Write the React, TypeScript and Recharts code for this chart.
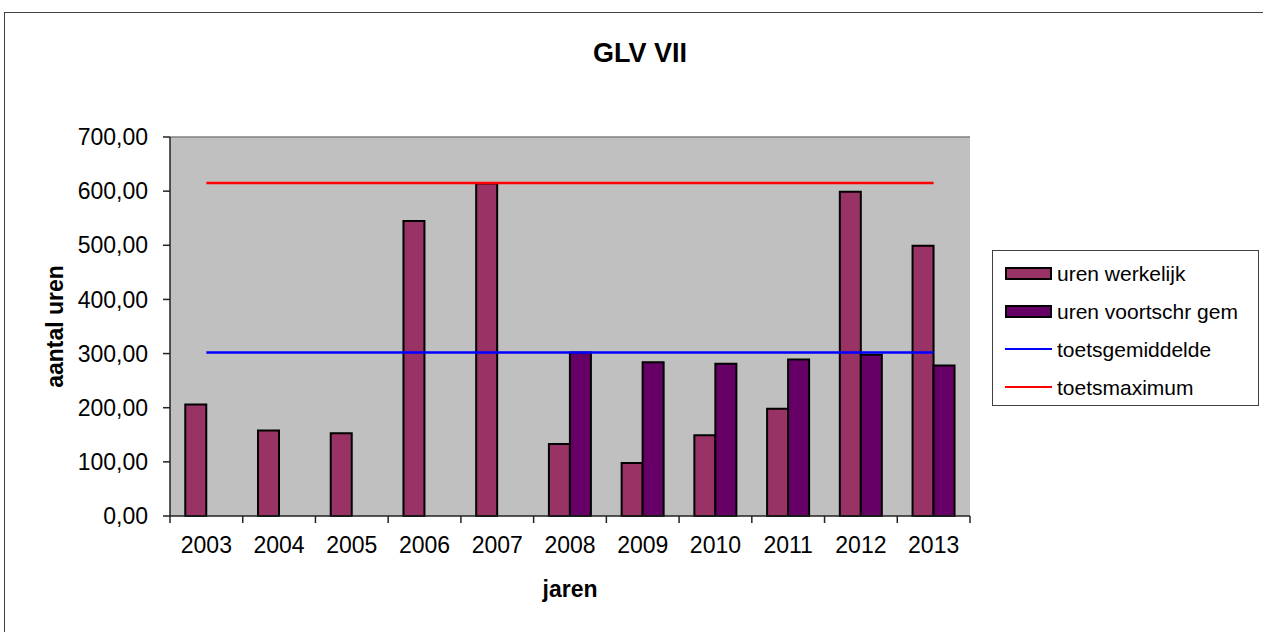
import React from 'react';
import { ComposedChart, Bar, Line, XAxis, YAxis, CartesianGrid, ReferenceLine } from 'recharts';

const years = ['2003', '2004', '2005', '2006', '2007', '2008', '2009', '2010', '2011', '2012', '2013'];
const urenWerkelijk = [206, 158, 153, 545, 614, 133, 98, 149, 198, 599, 499];
const urenVoortschrGem = [null, null, null, null, null, 302, 284, 281, 289, 298, 278];
const toetsgemiddelde = [302, 302, 302, 302, 302, 302, 302, 302, 302, 302, 302];
const toetsmaximum = [615, 615, 615, 615, 615, 615, 615, 615, 615, 615, 615];
const yTicks = [0, 100, 200, 300, 400, 500, 600, 700];

const FONT = '"Liberation Sans", Arial, sans-serif';
const PLOT_WIDTH = 800;

const data = years.map((year, i) => ({
  year,
  werkelijk: urenWerkelijk[i],
  voortschr: urenVoortschrGem[i],
  gemiddelde: toetsgemiddelde[i],
  maximum: toetsmaximum[i],
}));

// Excel style ticks: marks between categories, label in the middle
const YearTick = (props: any) => {
  const { x, y, payload } = props;
  const bw = PLOT_WIDTH / years.length;
  const isLast = payload.value === years[years.length - 1];
  return (
    <g>
      <line x1={x - bw / 2} x2={x - bw / 2} y1={y} y2={y + 7} stroke="#222" strokeWidth={1.5} />
      {isLast && <line x1={x + bw / 2} x2={x + bw / 2} y1={y} y2={y + 7} stroke="#222" strokeWidth={1.5} />}
      <text x={x} y={y + 37} textAnchor="middle" fontSize={23} fontFamily={FONT} fill="#000">
        {payload.value}
      </text>
    </g>
  );
};

const legendItems = [
  { label: 'uren werkelijk', color: '#993366', type: 'bar' },
  { label: 'uren voortschr gem', color: '#660066', type: 'bar' },
  { label: 'toetsgemiddelde', color: '#0000FF', type: 'line' },
  { label: 'toetsmaximum', color: '#FF0000', type: 'line' },
];

export default function App() {
  return (
    <div style={{ position: 'absolute', left: 0, top: 0, width: 1263, height: 632, overflow: 'hidden', background: '#fff', fontFamily: FONT }}>
      {/* chart frame, runs off the right and bottom edge */}
      <div style={{ position: 'absolute', left: 4, top: 12, width: 1300, height: 700, border: '1.5px solid #404040' }} />

      <div style={{ position: 'absolute', left: 0, width: 1280, top: 40, textAlign: 'center', fontSize: 27, fontWeight: 'bold', lineHeight: 1 }}>
        GLV VII
      </div>

      <div style={{ position: 'absolute', left: 0, top: 0 }}>
        <ComposedChart
          width={1263}
          height={632}
          data={data}
          margin={{ top: 137, right: 293, bottom: 26, left: 50 }}
          barCategoryGap="21%"
          barGap={0}
        >
          <CartesianGrid fill="#C0C0C0" horizontal={false} vertical={false} />
          <XAxis
            dataKey="year"
            height={90}
            axisLine={{ stroke: '#222', strokeWidth: 1.5 }}
            tickLine={false}
            tickSize={0}
            tickMargin={0}
            interval={0}
            tick={<YearTick />}
            label={{ value: 'jaren', position: 'insideBottom', offset: 9, fontSize: 23, fontWeight: 'bold', fill: '#000', fontFamily: FONT }}
          />
          <YAxis
            width={120}
            domain={[0, 700]}
            ticks={yTicks}
            interval={0}
            axisLine={{ stroke: '#222', strokeWidth: 1.5 }}
            tickLine={{ stroke: '#222', strokeWidth: 1.5 }}
            tickSize={7}
            tickMargin={15}
            tick={{ fontSize: 23, fill: '#000', fontFamily: FONT }}
            tickFormatter={(v: number) => v.toFixed(2).replace('.', ',')}
            label={{ value: 'aantal uren', angle: -90, position: 'insideLeft', offset: 5, fontSize: 23, fontWeight: 'bold', fill: '#000', fontFamily: FONT, style: { textAnchor: 'middle' } }}
          />
          <YAxis
            yAxisId="frame"
            orientation="right"
            width={0}
            tick={false}
            tickLine={false}
            axisLine={{ stroke: '#808080', strokeWidth: 1.5 }}
          />
          <ReferenceLine y={700} stroke="#808080" strokeWidth={1.5} />
          <Bar dataKey="werkelijk" name="uren werkelijk" fill="#993366" stroke="#000" strokeWidth={2} isAnimationActive={false} />
          <Bar dataKey="voortschr" name="uren voortschr gem" fill="#660066" stroke="#000" strokeWidth={2} isAnimationActive={false} />
          <Line dataKey="gemiddelde" name="toetsgemiddelde" stroke="#0000FF" strokeWidth={2.5} dot={false} activeDot={false} isAnimationActive={false} />
          <Line dataKey="maximum" name="toetsmaximum" stroke="#FF0000" strokeWidth={2.5} dot={false} activeDot={false} isAnimationActive={false} />
        </ComposedChart>
      </div>

      {/* Legend */}
      <div style={{ position: 'absolute', left: 992, top: 250, width: 265, height: 151, border: '1.5px solid #404040', background: '#fff', paddingTop: 3, boxSizing: 'content-box' }}>
        {legendItems.map((item) => (
          <div key={item.label} style={{ height: 38, display: 'flex', alignItems: 'center', paddingLeft: 12 }}>
            {item.type === 'bar' ? (
              <div style={{ width: 43, height: 9, background: item.color, border: '2px solid #000' }} />
            ) : (
              <div style={{ width: 47, height: 2, background: item.color }} />
            )}
            <span style={{ marginLeft: 5, fontSize: 21, color: '#000', lineHeight: 1 }}>{item.label}</span>
          </div>
        ))}
      </div>
    </div>
  );
}
